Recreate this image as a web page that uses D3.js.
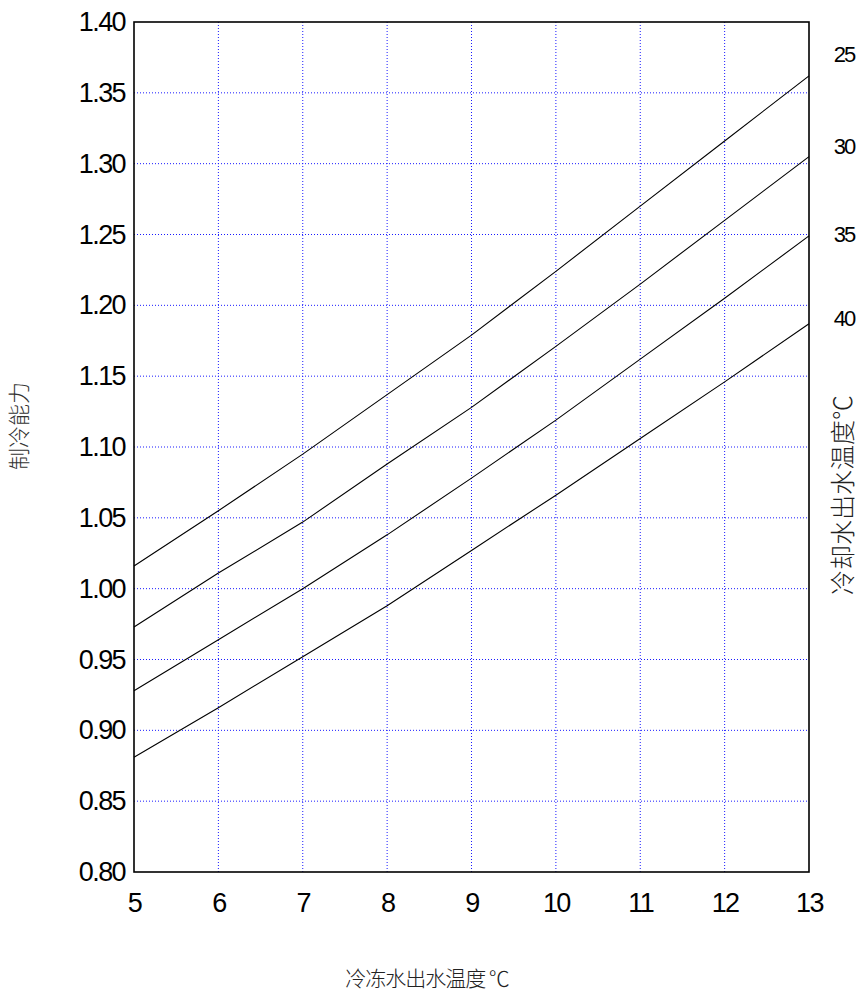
<!DOCTYPE html>
<html>
<head>
<meta charset="utf-8">
<script src="https://cdn.jsdelivr.net/npm/d3@7"></script>
<style>
  body { margin: 0; background: #fff; }
  svg { display: block; }
</style>
</head>
<body>
<div id="chart"></div>
<script>
"use strict";

// Chilled water outlet temperature (x axis)
const chilledTemps = [5, 6, 7, 8, 9, 10, 11, 12, 13];
// Cooling water outlet temperatures (one curve each)
const coolingTemps = [25, 30, 35, 40];
// Cooling capacity ratio
const cap25 = [1.016, 1.055, 1.095, 1.137, 1.179, 1.224, 1.270, 1.316, 1.362];
const cap30 = [0.973, 1.011, 1.047, 1.088, 1.128, 1.171, 1.215, 1.260, 1.305];
const cap35 = [0.928, 0.964, 1.000, 1.038, 1.078, 1.119, 1.162, 1.205, 1.249];
const cap40 = [0.881, 0.916, 0.952, 0.988, 1.027, 1.066, 1.106, 1.146, 1.187];
const yTicks = [0.80, 0.85, 0.90, 0.95, 1.00, 1.05, 1.10, 1.15, 1.20, 1.25, 1.30, 1.35, 1.40];

const w = 860;
const h = 993;
const margin = {top: 22, right: 51, bottom: 121, left: 134};

const svg = d3.select("#chart")
	.append("svg")
	.attr("width", w)
	.attr("height", h);

const x = d3.scaleLinear()
	.domain([5, 13])
	.range([margin.left, w - margin.right]);

const y = d3.scaleLinear()
	.domain([0.80, 1.40])
	.range([h - margin.bottom, margin.top]);

// Grid lines (blue dotted)
svg.append("g")
	.selectAll("line")
	.data(chilledTemps.slice(1, -1))
	.join("line")
	.attr("x1", d => x(d))
	.attr("x2", d => x(d))
	.attr("y1", y(0.80))
	.attr("y2", y(1.40))
	.attr("stroke", "#1a1aff")
	.attr("stroke-width", 1)
	.attr("stroke-dasharray", "1,2");

svg.append("g")
	.selectAll("line")
	.data(yTicks.slice(1, -1))
	.join("line")
	.attr("x1", x(5))
	.attr("x2", x(13))
	.attr("y1", d => y(d))
	.attr("y2", d => y(d))
	.attr("stroke", "#1a1aff")
	.attr("stroke-width", 1)
	.attr("stroke-dasharray", "1,2");

// Curves
const series = [cap25, cap30, cap35, cap40];
const line = d3.line()
	.x((d, i) => x(chilledTemps[i]))
	.y(d => y(d));

svg.append("g")
	.selectAll("path")
	.data(series)
	.join("path")
	.attr("d", line)
	.attr("fill", "none")
	.attr("stroke", "#000")
	.attr("stroke-width", 1.1);

// Frame
svg.append("rect")
	.attr("x", x(5))
	.attr("y", y(1.40))
	.attr("width", x(13) - x(5))
	.attr("height", y(0.80) - y(1.40))
	.attr("fill", "none")
	.attr("stroke", "#000")
	.attr("stroke-width", 1.6);

// Y axis labels
const yAxis = d3.axisLeft(y)
	.tickValues(yTicks)
	.tickSize(0)
	.tickPadding(9)
	.tickFormat(d3.format(".2f"));

svg.append("g")
	.attr("transform", `translate(${x(5)},0)`)
	.call(yAxis)
	.call(g => g.select(".domain").remove())
	.selectAll("text")
	.attr("font-family", "Liberation Sans, Arial, sans-serif")
	.attr("font-size", "27px")
	.attr("letter-spacing", "-1.6px")
	.attr("fill", "#000");

// X axis labels
const xAxis = d3.axisBottom(x)
	.tickValues(chilledTemps)
	.tickSize(0)
	.tickPadding(21)
	.tickFormat(d3.format("d"));

svg.append("g")
	.attr("transform", `translate(0,${y(0.80)})`)
	.call(xAxis)
	.call(g => g.select(".domain").remove())
	.selectAll("text")
	.attr("font-family", "Liberation Sans, Arial, sans-serif")
	.attr("font-size", "27px")
	.attr("letter-spacing", "-1.6px")
	.attr("fill", "#000");

// Curve labels at the right (nudged above the line ends)
const labelNudge = [-22, -11, -2, -6];
svg.append("g")
	.selectAll("text")
	.data(coolingTemps)
	.join("text")
	.attr("x", 844)
	.attr("y", (d, i) => y(series[i][series[i].length - 1]) + labelNudge[i])
	.attr("dy", "0.36em")
	.attr("text-anchor", "middle")
	.attr("font-family", "Liberation Sans, Arial, sans-serif")
	.attr("font-size", "22px")
	.attr("letter-spacing", "-2px")
	.text(d => d);

// Axis titles
svg.append("text")
	.attr("transform", "translate(27,426) rotate(-90)")
	.attr("text-anchor", "middle")
	.attr("font-family", "Noto Sans CJK SC, sans-serif")
	.attr("font-weight", 300)
	.attr("font-size", "22px")
	.attr("fill", "#333")
	.text("制冷能力");

svg.append("text")
	.attr("transform", "translate(852,495) rotate(-90)")
	.attr("text-anchor", "middle")
	.attr("font-family", "Noto Sans CJK SC, sans-serif")
	.attr("font-weight", 300)
	.attr("font-size", "25px")
	.attr("fill", "#222")
	.text("冷却水出水温度℃");

svg.append("text")
	.attr("x", 427)
	.attr("y", 986)
	.attr("text-anchor", "middle")
	.attr("font-family", "Noto Sans CJK SC, sans-serif")
	.attr("font-weight", 300)
	.attr("font-size", "21px")
	.attr("letter-spacing", "-1px")
	.attr("fill", "#222")
	.text("冷冻水出水温度 ℃");
</script>
</body>
</html>
